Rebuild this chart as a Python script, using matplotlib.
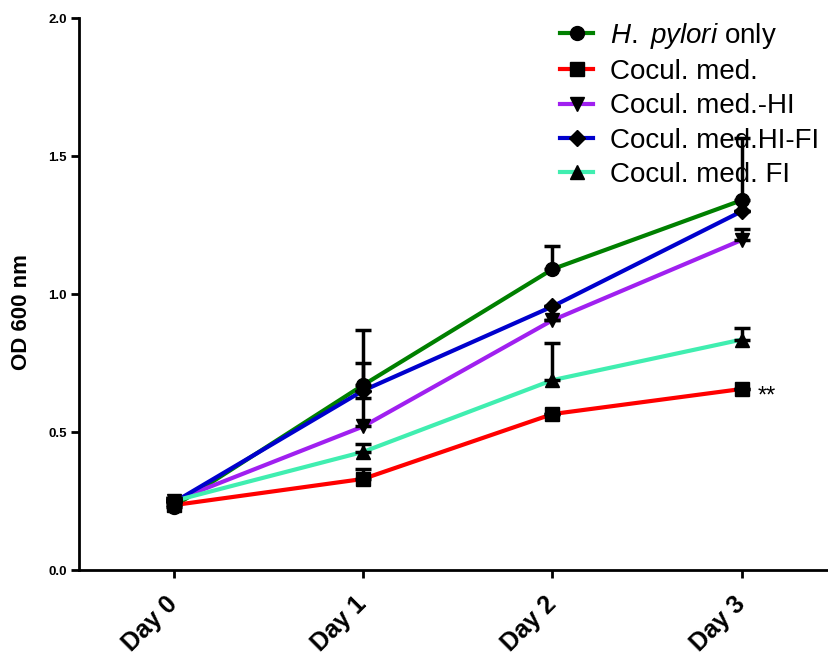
import matplotlib
matplotlib.use("Agg")
import matplotlib.pyplot as plt
import numpy as np

plt.rcParams['font.family'] = ['Liberation Sans', 'DejaVu Sans']
plt.rcParams['mathtext.fontset'] = 'custom'
plt.rcParams['mathtext.it'] = 'Liberation Sans:italic'
plt.rcParams['mathtext.rm'] = 'Liberation Sans'

days = ["Day 0", "Day 1", "Day 2", "Day 3"]

hp_only = [0.23, 0.67, 1.09, 1.34]
hp_only_err = [0.03, 0.20, 0.085, 0.225]

cocul = [0.235, 0.33, 0.565, 0.656]
cocul_err = [0.02, 0.035, 0.0, 0.0]

cocul_hi = [0.25, 0.52, 0.905, 1.196]
cocul_hi_err = [0.01, 0.105, 0.0, 0.04]

cocul_hi_fi = [0.245, 0.65, 0.955, 1.30]
cocul_hi_fi_err = [0.01, 0.10, 0.0, 0.0]

cocul_fi = [0.25, 0.428, 0.688, 0.835]
cocul_fi_err = [0.01, 0.028, 0.135, 0.042]

series = [
    (r"$\it{H.\ pylori}$ only", hp_only, hp_only_err, "#008000", "o", 10),
    ("Cocul. med.", cocul, cocul_err, "#ff0000", "s", 9.5),
    ("Cocul. med.-HI", cocul_hi, cocul_hi_err, "#a020f0", "v", 10),
    ("Cocul. med.HI-FI", cocul_hi_fi, cocul_hi_fi_err, "#0000cd", "D", 8),
    ("Cocul. med. FI", cocul_fi, cocul_fi_err, "#40eeb0", "^", 10),
]

fig = plt.figure(figsize=(8.29, 6.57), dpi=100)
ax = fig.add_axes([0.0953, 0.1324, 0.9047, 0.8402])

x = np.arange(len(days))
for label, vals, err, color, marker, ms in series:
    vals = np.asarray(vals)
    err = np.asarray(err)
    ax.errorbar(x, vals, yerr=[np.zeros_like(err), err], fmt="none",
                ecolor="black", elinewidth=2.5, capsize=6, capthick=2.5, zorder=3)
    ax.plot(x, vals, color=color, lw=3, zorder=2)
    ax.plot(x, vals, linestyle="none", marker=marker, color="black",
            markersize=ms, zorder=4)
    ax.plot([], [], color=color, lw=3, marker=marker, markerfacecolor="black",
            markeredgecolor="black", markersize=ms, label=label)

ax.text(3.085, 0.63, "**", fontsize=17, ha="left", va="center")

ax.set_xlim(-0.5, 3.46)
ax.set_ylim(0, 2.0)
ax.set_xticks(x)
ax.set_xticklabels(days, rotation=45, ha="right", va="center", rotation_mode="anchor",
                   fontsize=18, fontweight="bold")
ax.set_yticks([0.0, 0.5, 1.0, 1.5, 2.0])
ax.set_yticklabels(["0.0", "0.5", "1.0", "1.5", "2.0"], fontsize=9.5, fontweight="bold")
ax.set_ylabel("OD 600 nm", fontsize=16, fontweight="bold")
ax.yaxis.set_label_coords(-0.063, 0.467)

for s in ["top", "right"]:
    ax.spines[s].set_visible(False)
for s in ["left", "bottom"]:
    ax.spines[s].set_linewidth(2)
ax.tick_params(axis="both", width=2, length=6, direction="out")
ax.tick_params(axis="x", pad=16)
ax.tick_params(axis="y", pad=3)

leg = ax.legend(loc="upper right", bbox_to_anchor=(0.987, 0.995), frameon=False,
                fontsize=20, handlelength=1.2, handletextpad=0.6,
                labelspacing=0.3, borderaxespad=0.0, borderpad=0.0)
leg.set_zorder(1)

fig.savefig("out.png", dpi=100)
